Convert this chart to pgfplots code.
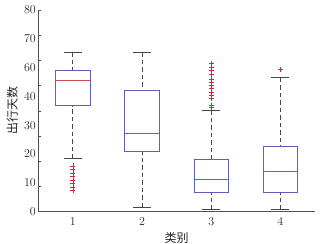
\documentclass[border=0pt]{standalone}
\usepackage{pgfplots}
\pgfplotsset{compat=1.18}
\usepgfplotslibrary{statistics}
\usepackage{fontspec}
\newfontfamily\cjk{Noto Sans CJK SC}
\definecolor{boxblue}{RGB}{95,95,185}
\definecolor{medred}{RGB}{205,70,70}
\definecolor{outred}{RGB}{200,45,55}
\definecolor{axgray}{RGB}{80,80,80}
\definecolor{whgray}{RGB}{70,70,70}
\begin{document}
\begin{tikzpicture}
\useasboundingbox (-38.3pt,-31.3pt) rectangle (281.7pt,211.7pt);
\begin{axis}[
  scale only axis,
  width=276.7pt, height=201.7pt,
  xmin=0.5, xmax=4.5, ymin=0, ymax=80,
  axis x line*=bottom, axis y line*=left,
  axis line style={axgray, line width=0.8pt},
  xtick={1,2,3,4}, xticklabels={1,2,3,4},
  x tick style={draw=none},
  ytick={0,10,...,80}, yticklabels={,,,,,,,,},
  y tick style={axgray, line width=0.6pt},
  tick align=inside, major tick length=3pt,
  extra y ticks={0,11.4286,22.8571,34.2857,45.7143,57.1429,68.5714,80},
  extra y tick labels={0,10,20,30,40,60,70,80},
  extra y tick style={major tick length=0pt},
  ticklabel style={font=\fontsize{12}{14}\selectfont, text=black!85},
  yticklabel style={xshift=1pt},
  xticklabel style={yshift=-2pt},
  xlabel={\cjk 类别}, ylabel={\cjk 出行天数},
  label style={font=\fontsize{12}{14}\selectfont, text=black!85},
  xlabel style={at={(axis description cs:0.5,0)}, anchor=center, yshift=-26pt},
  ylabel style={at={(axis description cs:0,0.5)}, anchor=center, yshift=26pt},
  boxplot/draw direction=y,
  boxplot/box extend=0.5,
  boxplot/whisker extend=0.26,
  boxplot/every box/.style={draw=boxblue, line width=0.8pt},
  boxplot/every median/.style={draw=medred, line width=0.8pt},
  boxplot/draw/lower whisker/.code={
    \draw[whgray, line width=0.8pt, dash pattern=on 4.5pt off 3pt]
      (boxplot box cs:\pgfplotsboxplotvalue{lower whisker},0.5) --
      (boxplot box cs:\pgfplotsboxplotvalue{lower quartile},0.5);
    \draw[whgray, line width=0.9pt]
      (boxplot whisker cs:\pgfplotsboxplotvalue{lower whisker},0) --
      (boxplot whisker cs:\pgfplotsboxplotvalue{lower whisker},1);
  },
  boxplot/draw/upper whisker/.code={
    \draw[whgray, line width=0.8pt, dash pattern=on 4.5pt off 3pt]
      (boxplot box cs:\pgfplotsboxplotvalue{upper whisker},0.5) --
      (boxplot box cs:\pgfplotsboxplotvalue{upper quartile},0.5);
    \draw[whgray, line width=0.9pt]
      (boxplot whisker cs:\pgfplotsboxplotvalue{upper whisker},0) --
      (boxplot whisker cs:\pgfplotsboxplotvalue{upper whisker},1);
  },
]
\addplot[boxplot prepared={draw position=1, lower whisker=21, lower quartile=42.1,
   median=52.1, upper quartile=56.1, upper whisker=63.2},
   mark=+, mark size=2.6pt, mark options={draw=outred, solid, line width=0.6pt}]
  table[row sep=\\, y index=0] {18.2\\16.8\\15.4\\14.0\\12.6\\11.2\\9.8\\8.6\\};
\addplot[boxplot prepared={draw position=2, lower whisker=1.7, lower quartile=23.9,
   median=31, upper quartile=48.1, upper whisker=63.2}]
  coordinates {};
\addplot[boxplot prepared={draw position=3, lower whisker=0.8, lower quartile=7.7,
   median=12.8, upper quartile=20.8, upper whisker=40.2},
   mark=+, mark size=2.6pt, mark options={draw=outred, solid, line width=0.6pt}]
  table[row sep=\\, y index=0] {58.7\\57.3\\56.0\\54.4\\52.7\\51.4\\50.1\\48.8\\47.4\\46.1\\44.8\\42.2\\41.3\\};
\addplot[boxplot prepared={draw position=4, lower whisker=0.8, lower quartile=7.7,
   median=15.8, upper quartile=26, upper whisker=53.1},
   mark=+, mark size=2.6pt, mark options={draw=outred, solid, line width=0.6pt}]
  table[row sep=\\, y index=0] {56.3\\};
\end{axis}
\end{tikzpicture}
\end{document}
